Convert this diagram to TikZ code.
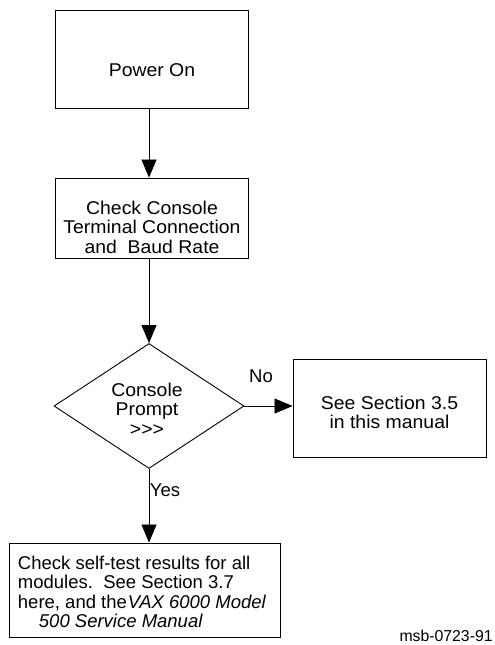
\documentclass[tikz,border=0pt]{standalone}
\usepackage{fontspec}
\setmainfont{Liberation Sans}
\newfontfamily\widefont{Liberation Sans}[FakeStretch=1.05]
\usetikzlibrary{shapes.geometric,arrows.meta}
\tikzset{
  box/.style={draw,line width=0.9pt,minimum width=193pt,minimum height=98pt,inner sep=0pt},
  txt/.style={inner sep=0pt,align=center,font=\widefont\fontsize{18.5}{19.5}\selectfont},
  plain/.style={inner sep=0pt,font=\fontsize{18.5}{19.5}\selectfont},
}
\begin{document}
\begin{tikzpicture}[x=1pt,y=-1pt,>={Triangle[length=18pt,width=15pt]},line width=0.8pt]
		\useasboundingbox (0,0) rectangle (495,645);
		\node[box] (pwr) at (152,59) {};
		\node[box,minimum height=80pt] (chk) at (152,218) {};
		\node[draw,diamond,line width=0.9pt,minimum width=190pt,minimum height=125pt,inner sep=0pt] (prompt) at (149,406) {};
		\node[box] (sect) at (389.5,408) {};
		\node[box,minimum width=271pt,minimum height=94pt] (stest) at (144.5,590) {};
		\node[txt] (pwrtxt) at ([yshift=-11pt]pwr.center) {Power On};
		\node[txt] (chktxt) at ([yshift=-9pt]chk.center) {Check Console\\Terminal Connection\\and\ \ Baud Rate};
		\node[txt] (prompttxt) at ([xshift=-2pt,yshift=-3pt]prompt.center) {Console\\Prompt\\>{}>{}>};
		\node[txt] (secttxt) at ([yshift=-4.5pt]sect.center) {See Section 3.5\\in this manual};
		\node[plain,align=left,anchor=west] (stesttxt) at ([xshift=9pt,yshift=-2pt]stest.west) {Check self-test results for all\\modules.\ \ See Section 3.7\\here, and the\hspace{1pt}\textit{VAX 6000 Model}\\\hspace*{21pt}\textit{500 Service Manual}};
		\node[plain] (no) at (261,376) {No};
		\node[plain] (yes) at (165,490) {Yes};
		\node[inner sep=0pt,anchor=east,font=\fontsize{15.8}{18}\selectfont] (fig) at (493,636) {msb-0723-91};
		\draw[->] (pwr.south -| prompt.north)--(chk.north -| prompt.north);
		\draw[->] (chk.south -| prompt.north)--(prompt.north);
		\draw[->] (prompt.east)--(prompt.east -| sect.west);
		\draw[->] (prompt.south)--(prompt.south |- stest.north);
\end{tikzpicture}
\end{document}
